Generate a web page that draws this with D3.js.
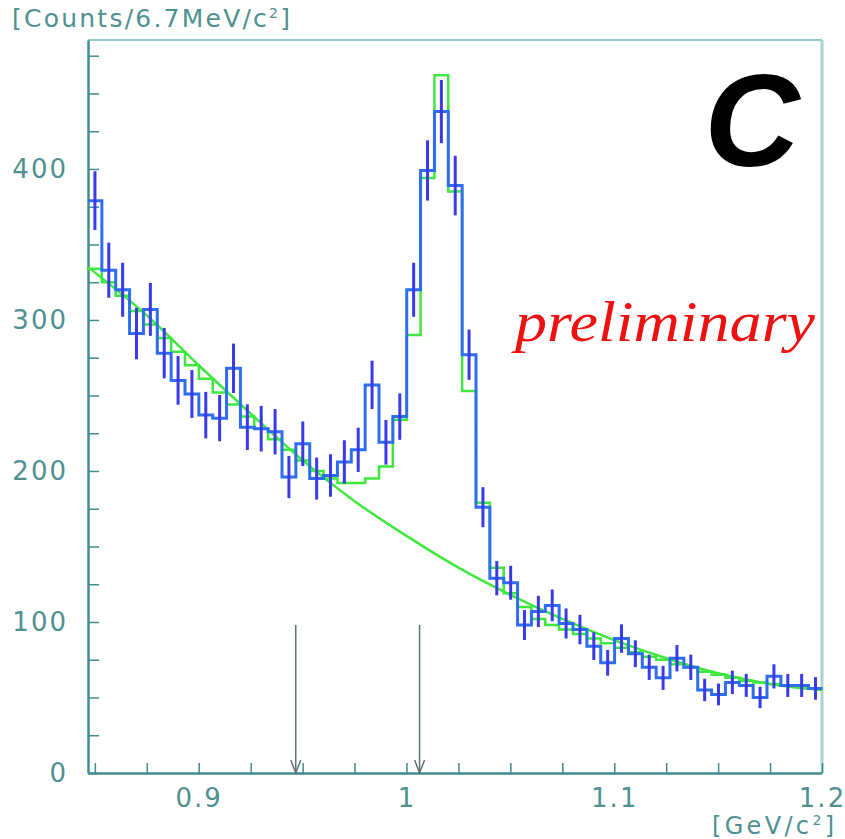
<!DOCTYPE html>
<html>
<head>
<meta charset="utf-8">
<script src="https://cdn.jsdelivr.net/npm/d3@7"></script>
<style>
  body { margin: 0; background: #fff; }
  svg { display: block; }
</style>
</head>
<body>
<div id="chart"></div>
<script>
// binning of the mass histogram
const massMin = 0.8467;
const massMax = 1.2;
const binWidth = 0.00667;

// measured counts per bin (blue, with Poisson errors)
const counts = [379, 333, 320, 291, 307, 278, 260, 251, 237, 235,
  268, 229, 228, 226, 196, 218, 195, 197, 206, 214,
  257, 219, 236, 320, 399, 438, 389, 277, 176, 129,
  126, 98, 107, 111, 99, 95, 84, 73, 89, 79,
  70, 63, 76, 70, 55, 52, 60, 58, 50, 64,
  58, 58, 56];

// fit histogram (green steps)
const fitCounts = [334, 325, 316, 306, 297, 288, 279, 270, 261, 252,
  244, 236, 228, 221, 214, 207, 200, 195, 192, 192,
  195, 203, 234, 290, 394, 462, 385, 253, 179, 136,
  119, 110, 102, 98, 95, 92, 89, 86, 83, 80,
  77, 75, 72, 70, 67, 65, 63, 61, 60, 59,
  58, 57, 56];

// smooth background curve (green line)
const bgMass = [0.8467, 0.875, 0.9, 0.925, 0.95, 0.975, 1.0, 1.025, 1.05, 1.075, 1.1, 1.125, 1.15, 1.175, 1.2];
const bgCounts = [335, 303, 270, 238, 207, 180, 157, 136, 118, 102, 88, 76, 66, 59, 55];

// arrows marking the cut window
const arrowMass = [0.9467, 1.0063];
const arrowTop = 98;

// axis ticks
const xTicks = d3.range(0, 15).map(i => +(0.85 + i * 0.025).toFixed(3));
const xLabels = [0.9, 1, 1.1, 1.2];
const yTicks = d3.range(0, 476, 25);
const yLabels = [0, 100, 200, 300, 400];

const width = 845;
const height = 839;
const margin = { top: 40, right: 23, bottom: 66, left: 88 };

const axisColor = '#3f8c8c';
const labelColor = '#4f9090';

const svg = d3.select('#chart').append('svg')
  .attr('width', width)
  .attr('height', height)
  .style('font-family', '"DejaVu Sans", sans-serif');

const x = d3.scaleLinear()
  .domain([massMin, massMax])
  .range([margin.left, width - margin.right]);

const y = d3.scaleLinear()
  .domain([0, 485.4])
  .range([height - margin.bottom, margin.top]);

// frame
svg.append('line')
  .attr('x1', x(massMin)).attr('x2', x(massMax))
  .attr('y1', y.range()[1]).attr('y2', y.range()[1])
  .attr('stroke', '#6fb3b3').attr('stroke-width', 1.5);
svg.append('line')
  .attr('x1', x(massMax)).attr('x2', x(massMax))
  .attr('y1', y.range()[1]).attr('y2', y.range()[0])
  .attr('stroke', '#a9d2d2').attr('stroke-width', 3);

// y axis
const yAxis = svg.append('g')
  .attr('transform', 'translate(' + x(massMin) + ',0)')
  .call(d3.axisLeft(y)
    .tickValues(yTicks)
    .tickSizeInner(-11)
    .tickSizeOuter(0)
    .tickPadding(20)
    .tickFormat(d => yLabels.includes(d) ? d : ''));

// x axis
const xAxis = svg.append('g')
  .attr('transform', 'translate(0,' + y(0) + ')')
  .call(d3.axisBottom(x)
    .tickValues(xTicks)
    .tickSizeInner(-10)
    .tickSizeOuter(0)
    .tickPadding(16)
    .tickFormat(d => xLabels.some(v => Math.abs(v - d) < 1e-6) ? d3.format('~g')(d) : ''));

[yAxis, xAxis].forEach(ax => {
  ax.select('.domain').attr('stroke', axisColor).attr('stroke-width', 2.5);
  ax.selectAll('.tick line').attr('stroke', axisColor).attr('stroke-width', 1.5);
  ax.selectAll('.tick text')
    .attr('fill', labelColor)
    .style('font-size', '26px')
    .style('letter-spacing', '2px')
    .style('font-family', '"DejaVu Sans", sans-serif');
});

// arrows
const arrows = svg.append('g').attr('stroke', '#5f7373').attr('stroke-width', 1.5).attr('fill', 'none');
arrowMass.forEach(m => {
  arrows.append('line')
    .attr('x1', x(m)).attr('x2', x(m))
    .attr('y1', y(arrowTop)).attr('y2', y(0));
  arrows.append('path')
    .attr('d', 'M' + (x(m) - 5) + ',' + (y(0) - 13) + 'L' + x(m) + ',' + y(0) + 'L' + (x(m) + 5) + ',' + (y(0) - 13));
});

// step path helper
function stepPath(vals) {
  const pts = [];
  vals.forEach((v, i) => {
    const m0 = massMin + i * binWidth;
    pts.push([x(m0), y(v)]);
    pts.push([x(m0 + binWidth), y(v)]);
  });
  return d3.line()(pts);
}

// background curve
svg.append('path')
  .datum(bgMass.map((m, i) => [m, bgCounts[i]]))
  .attr('d', d3.line().x(d => x(d[0])).y(d => y(d[1])).curve(d3.curveMonotoneX))
  .attr('fill', 'none')
  .attr('stroke', '#3ee83e')
  .attr('stroke-width', 2.5);

// fit histogram
svg.append('path')
  .attr('d', stepPath(fitCounts))
  .attr('fill', 'none')
  .attr('stroke', '#3ee83e')
  .attr('stroke-width', 2.5);

// data histogram
svg.append('path')
  .attr('d', stepPath(counts))
  .attr('fill', 'none')
  .attr('stroke', '#2f6df0')
  .attr('stroke-width', 3);

// error bars, sqrt(N)
svg.append('g')
  .selectAll('line')
  .data(counts)
  .join('line')
    .attr('x1', (d, i) => x(massMin + (i + 0.5) * binWidth))
    .attr('x2', (d, i) => x(massMin + (i + 0.5) * binWidth))
    .attr('y1', d => y(d - Math.sqrt(d)))
    .attr('y2', d => y(d + Math.sqrt(d)))
    .attr('stroke', '#3a3aea')
    .attr('stroke-width', 3);

// labels
const yTitle = svg.append('text')
  .attr('x', 12).attr('y', 27)
  .attr('fill', labelColor)
  .attr('textLength', 278)
  .attr('lengthAdjust', 'spacing')
  .style('font-size', '25px');
yTitle.append('tspan').text('[Counts/6.7MeV/c');
yTitle.append('tspan').attr('dy', -9).style('font-size', '14px').text('2');
yTitle.append('tspan').attr('dy', 9).text(']');

const xTitle = svg.append('text')
  .attr('x', 712).attr('y', 834)
  .attr('fill', labelColor)
  .attr('textLength', 122)
  .attr('lengthAdjust', 'spacing')
  .style('font-size', '24px');
xTitle.append('tspan').text('[GeV/c');
xTitle.append('tspan').attr('dy', -9).style('font-size', '14px').text('2');
xTitle.append('tspan').attr('dy', 9).text(']');

svg.append('text')
  .attr('x', 752).attr('y', 166)
  .attr('text-anchor', 'middle')
  .attr('fill', '#000')
  .style('font-family', '"Liberation Sans", Arial, sans-serif')
  .style('font-weight', 'bold')
  .style('font-style', 'italic')
  .style('font-size', '132px')
  .text('C');

svg.append('text')
  .attr('x', 515).attr('y', 341)
  .attr('fill', '#ee1111')
  .attr('textLength', 300)
  .attr('lengthAdjust', 'spacingAndGlyphs')
  .style('font-family', '"Liberation Serif", "Times New Roman", serif')
  .style('font-style', 'italic')
  .style('font-size', '58px')
  .text('preliminary');
</script>
</body>
</html>
